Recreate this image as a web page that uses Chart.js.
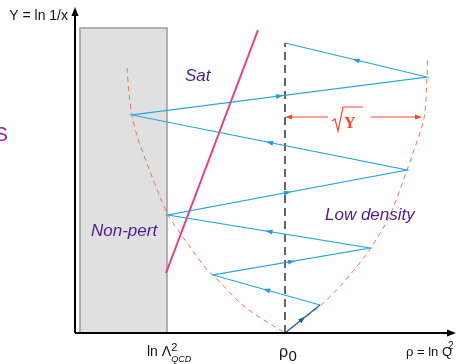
<!DOCTYPE html>
<html>
<head>
<meta charset="utf-8">
<script src="https://cdn.jsdelivr.net/npm/chart.js@4.4.1/dist/chart.umd.min.js"></script>
<style>
  body { margin: 0; background: #fff; }
  #wrap { width: 459px; height: 364px; }
</style>
</head>
<body>
<div id="wrap"><canvas id="diagram" width="459" height="364"></canvas></div>
<script>
// diagram units: rho along x (0 = Y axis), Y upward (0 = rho axis)
const rho0 = 21;
const lnLambda = 9.2;

// zigzag path of the evolution, starting at rho0
const zigRho = [21, 24.5, 13.8, 29.5, 9.3, 33.2, 5.7, 35.2, 21];
const zigY   = [0, 2.8, 5.8, 8.5, 11.8, 16.3, 21.8, 25.6, 29];

// red dashed boundary, both branches
const leftRho  = [5.2, 5.4, 5.7, 6.3, 8.5, 9.3, 10.5, 13.2, 13.8, 17, 21];
const leftY    = [26.5, 24, 21.8, 19.4, 13.6, 11.8, 10, 6.3, 5.8, 2.6, 0];
const rightRho = [21, 24.5, 26.8, 29.5, 31.5, 33.2, 33.8, 34.9, 35.2, 35.25];
const rightY   = [0, 2.7, 5, 8.4, 11.8, 16.3, 18, 21.5, 25.6, 27.3];

// saturation line
const satRho = [9.1, 18.3];
const satY   = [6, 30.3];

// non-perturbative region
const boxRho = [0.5, 0.5, 9.2, 9.2];
const boxY   = [0, 30.5, 30.5, 0];

// sqrt(Y) marker
const sqrtY = 21.6;
const sqrtRho = [21, 34.7];

const pts = (xs, ys) => xs.map((v, i) => ({ x: v, y: ys[i] }));

const FONT = '"Liberation Sans", Arial, sans-serif';

function arrowHead(ctx, x1, y1, x2, y2, tx, ty, len, wid, color) {
    const a = Math.atan2(y2 - y1, x2 - x1);
    ctx.save();
    ctx.translate(tx, ty);
    ctx.rotate(a);
    ctx.fillStyle = color;
    ctx.beginPath();
    ctx.moveTo(0, 0);
    ctx.lineTo(-len, -wid / 2);
    ctx.lineTo(-len, wid / 2);
    ctx.closePath();
    ctx.fill();
    ctx.restore();
}

const diagramPlugin = {
    id: 'diagramPlugin',
    afterDatasetsDraw(chart) {
        const ctx = chart.ctx;
        const sx = chart.scales.x, sy = chart.scales.y;
        const px = v => sx.getPixelForValue(v);
        const py = v => sy.getPixelForValue(v);

        // arrows along the zigzag
        for (let i = 0; i < zigRho.length - 1; i++) {
            const x1 = px(zigRho[i]), y1 = py(zigY[i]);
            const x2 = px(zigRho[i + 1]), y2 = py(zigY[i + 1]);
            const d = Math.hypot(x2 - x1, y2 - y1);
            const mx = (x1 + x2) / 2 + (x2 - x1) / d * 3.5;
            const my = (y1 + y2) / 2 + (y2 - y1) / d * 3.5;
            arrowHead(ctx, x1, y1, x2, y2, mx, my, 7, 5, i === 0 ? '#1d6385' : '#1f9bd6');
        }

        // axis arrow heads
        ctx.save();
        arrowHead(ctx, px(0), py(0), px(0), py(32.6), px(0), py(32.6), 9, 7, '#000');
        arrowHead(ctx, px(0), py(0), px(38.1), py(0), px(38.1), py(0), 9, 7, '#000');
        ctx.restore();

        // sqrt(Y) double arrow
        const ay = py(sqrtY);
        const ax1 = px(sqrtRho[0]), ax2 = px(sqrtRho[1]);
        const red = '#f0462a';
        ctx.save();
        ctx.strokeStyle = red;
        ctx.lineWidth = 1;
        ctx.beginPath();
        ctx.moveTo(ax1 + 4, ay); ctx.lineTo(ax1 + 43, ay);
        ctx.moveTo(ax1 + 86, ay); ctx.lineTo(ax2 - 4, ay);
        ctx.stroke();
        arrowHead(ctx, ax2, ay, ax1, ay, ax1, ay, 7, 5, red);
        arrowHead(ctx, ax1, ay, ax2, ay, ax2, ay, 7, 5, red);
        // radical sign
        const rx = ax1 + 47;
        ctx.lineWidth = 1.2;
        ctx.beginPath();
        ctx.moveTo(rx, ay + 4);
        ctx.lineTo(rx + 3, ay + 2);
        ctx.lineTo(rx + 6, ay + 14);
        ctx.lineTo(rx + 11, ay - 10);
        ctx.lineTo(rx + 31, ay - 10);
        ctx.stroke();
        ctx.fillStyle = red;
        ctx.font = 'bold 16px "Liberation Serif", "DejaVu Serif", serif';
        ctx.textBaseline = 'alphabetic';
        ctx.textAlign = 'left';
        ctx.fillText('Y', rx + 12, ay + 11);
        ctx.restore();

        // labels
        ctx.save();
        ctx.textBaseline = 'alphabetic';
        ctx.fillStyle = '#111';
        ctx.font = '14px ' + FONT;
        ctx.textAlign = 'right';
        ctx.fillText('Y = ln 1/x', px(0) - 7, py(32.6) + 13);

        // x axis tick labels
        const base = py(0) + 23;
        ctx.textAlign = 'left';
        let lx = px(lnLambda) - 20;
        ctx.font = '14px ' + FONT;
        ctx.fillText('ln \u039B', lx, base);
        lx += ctx.measureText('ln \u039B').width;
        ctx.font = '11px ' + FONT;
        ctx.fillText('2', lx, base - 5);
        ctx.font = 'italic 9px ' + FONT;
        ctx.fillText('QCD', lx, base + 6);

        ctx.font = '16px ' + FONT;
        const r0 = px(rho0) - 6;
        ctx.fillText('\u03C1', r0, base + 1);
        ctx.font = '15px ' + FONT;
        ctx.fillText('0', r0 + ctx.measureText('\u03C1').width + 1, base + 5);

        ctx.font = '13px ' + FONT;
        const qx = px(33.1);
        ctx.fillText('\u03C1 = ln Q', qx, base);
        ctx.font = '10px ' + FONT;
        ctx.fillText('2', qx + 42, base - 7);

        // region labels
        ctx.fillStyle = '#4b1e8c';
        ctx.font = 'italic 17px ' + FONT;
        ctx.fillText('Sat', px(11), py(25.2));
        ctx.fillText('Non-pert', px(1.6), py(9.7));
        ctx.fillText('Low density', px(25), py(11.3));

        ctx.fillStyle = '#a1239e';
        ctx.font = '21px ' + FONT;
        ctx.textAlign = 'right';
        ctx.fillText('S', sx.left + 8, py(19.2));
        ctx.restore();
    }
};

new Chart(document.getElementById('diagram'), {
    type: 'scatter',
    data: {
        datasets: [
            {   // rho axis
                data: pts([0, 37.5], [0, 0]),
                showLine: true, borderColor: '#000', borderWidth: 2, order: 1
            },
            {   // Y axis
                data: pts([0, 0], [0, 32]),
                showLine: true, borderColor: '#000', borderWidth: 2, order: 1
            },
            {   // first step, along the boundary
                data: pts(zigRho.slice(0, 2), zigY.slice(0, 2)),
                showLine: true, borderColor: '#1d6385', borderWidth: 1.2, order: 2
            },
            {   // zigzag
                data: pts(zigRho.slice(1), zigY.slice(1)),
                showLine: true, borderColor: '#27a3dc', borderWidth: 1.2, order: 3
            },
            {   // rho0 dashed line
                data: pts([rho0, rho0], [0, 29]),
                showLine: true, borderColor: '#333', borderWidth: 1.5, borderDash: [8, 5], order: 4
            },
            {   // saturation line
                data: pts(satRho, satY),
                showLine: true, borderColor: '#ea3a8c', borderWidth: 2, order: 5
            },
            {   // left branch of the boundary
                data: pts(leftRho, leftY),
                showLine: true, borderColor: '#f2735a', borderWidth: 1, borderDash: [5, 4],
                tension: 0.3, order: 6
            },
            {   // right branch of the boundary
                data: pts(rightRho, rightY),
                showLine: true, borderColor: '#f2735a', borderWidth: 1, borderDash: [5, 4],
                tension: 0.3, order: 6
            },
            {   // non-perturbative region
                data: pts(boxRho, boxY),
                showLine: true, borderColor: '#9a9a9a', borderWidth: 1.5,
                backgroundColor: '#e0e0e0', fill: { value: 0 }, order: 10
            }
        ]
    },
    options: {
        responsive: false,
        animation: false,
        layout: { padding: 0 },
        elements: { point: { radius: 0, hoverRadius: 0 } },
        plugins: { legend: { display: false }, tooltip: { enabled: false } },
        scales: {
            x: { type: 'linear', display: false, min: -7.5, max: 38.4 },
            y: { type: 'linear', display: false, min: -3.1, max: 33.3 }
        }
    },
    plugins: [diagramPlugin]
});
</script>
</body>
</html>
